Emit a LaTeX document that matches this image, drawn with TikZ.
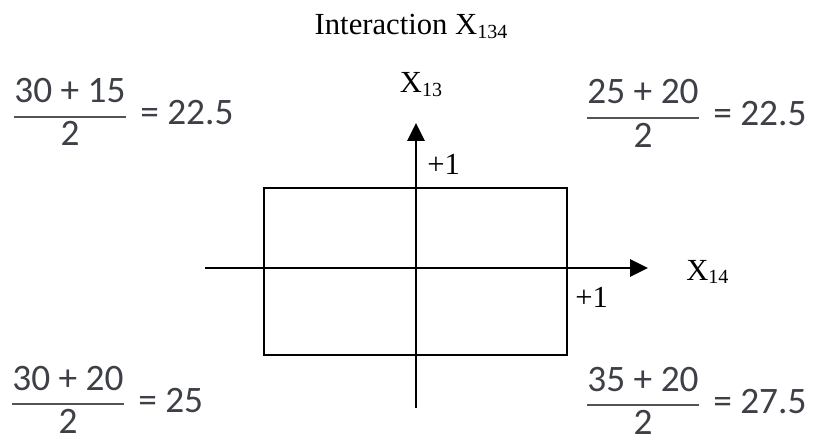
\documentclass[tikz,border=0pt]{standalone}
\usepackage{fontspec}
\setmainfont{Liberation Serif}
\newfontfamily\calfont{Carlito}
\usetikzlibrary{arrows.meta, positioning}
\definecolor{fraccol}{rgb}{0.24,0.25,0.28}
\definecolor{barcol}{rgb}{0.33,0.33,0.33}
\newcommand{\xsub}[2]{#1\raisebox{-0.25ex}{\fontsize{15}{15}\selectfont #2}}

\begin{document}
\begin{tikzpicture}[x=0.75pt,y=-0.75pt,
    lbl/.style={font=\fontsize{23}{25}\selectfont, inner sep=0pt},
    calc/.style={font=\calfont\fontsize{28}{30}\selectfont, text=fraccol, inner sep=0pt},
    axis/.style={line width=1.4pt, -{Triangle[length=13.5pt,width=13pt]}}]
    \useasboundingbox (0,0) rectangle (813,442);
    % title
    \node[lbl, anchor=base] (title) at (411,35) {Interaction \xsub{X}{134}};
    % box
    \draw[line width=1.3pt] (264,188) rectangle (567,355);
    % axes
    \coordinate (xs) at (205,268);
    \coordinate (xe) at (648,268);
    \coordinate (ys) at (416,408);
    \coordinate (ye) at (416,123);
    \draw[axis] (xs) -- (xe);
    \draw[axis] (ys) -- (ye);
    \node[lbl, anchor=base] (x13) at (421,93) {\xsub{X}{13}};
    \node[lbl, anchor=base west] (x14) at (686,280) {\xsub{X}{14}};
    \node[lbl, anchor=base west] (p1y) at (427,175) {+1};
    \node[lbl, anchor=base west] (p1x) at (575,307) {+1};
    % corner means
    \foreach \cx/\by/\nm/\res/\id in {70/117/30 + 15/22.5/tl, 643/118/25 + 20/22.5/tr,
        68/404/30 + 20/25/bl, 643/405/35 + 20/27.5/br} {
        \node[calc, anchor=base] (num\id) at (\cx,\by-14) {\nm};
        \node[calc, anchor=base] (den\id) at (\cx,\by+29) {2};
        \draw[barcol, line width=2.2pt] (\cx-56,\by) -- (\cx+56,\by);
        \node[calc, anchor=base west] (res\id) at (\cx+70,\by+8) {= \res};
    }
\end{tikzpicture}
\end{document}
